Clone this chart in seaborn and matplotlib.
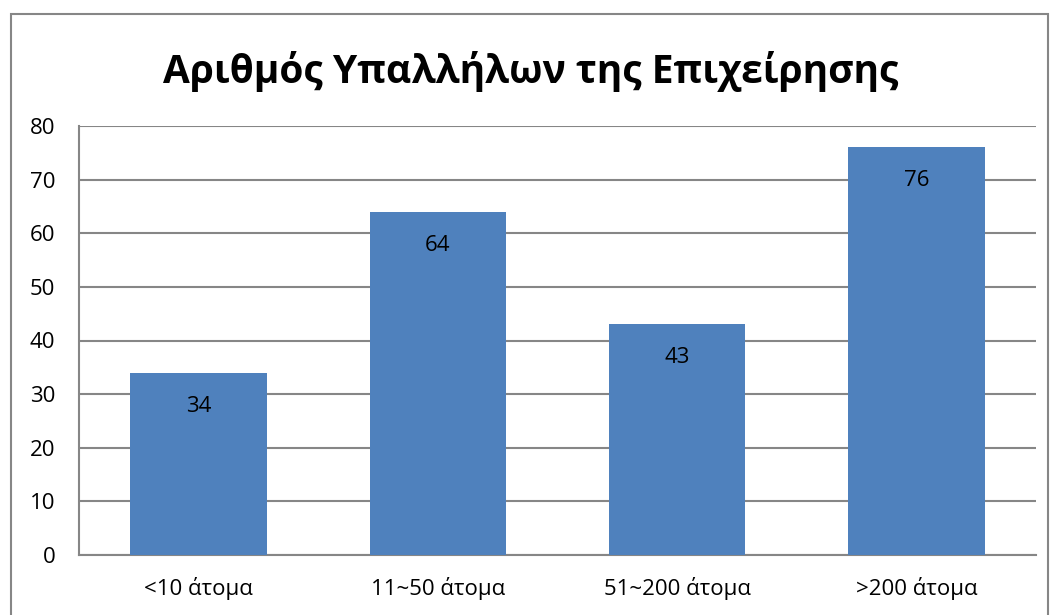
import matplotlib
matplotlib.use("Agg")
import matplotlib.pyplot as plt
import seaborn as sns
import pandas as pd
from matplotlib.patches import Rectangle

categories = ["<10 άτομα", "11~50 άτομα", "51~200 άτομα", ">200 άτομα"]
counts = [34, 64, 43, 76]
y_ticks = [0, 10, 20, 30, 40, 50, 60, 70, 80]
title = "Αριθμός Υπαλλήλων της Επιχείρησης"

sns.set_theme(style="white")
plt.rcParams["font.family"] = ["Open Sans", "DejaVu Sans"]

W, H = 1051, 615
fig = plt.figure(figsize=(W / 100, H / 100), dpi=100)
fig.patch.set_facecolor("white")

# plot area in pixel coordinates
left, right, top, bottom = 79, 1036, 126, 555
ax = fig.add_axes([left / W, 1 - bottom / H, (right - left) / W, (bottom - top) / H])

df = pd.DataFrame({"cat": categories, "n": counts})
sns.barplot(data=df, x="cat", y="n", color="#4F81BD", saturation=1, width=0.57,
            linewidth=0, edgecolor="none", ax=ax, zorder=3)

ax.set_ylim(0, 80)
ax.set_yticks(y_ticks)
ax.set_xlim(-0.5, len(categories) - 0.5)
ax.yaxis.grid(True, color="#868686", linewidth=1.5, zorder=0)
ax.set_axisbelow(True)
for s in ["top", "right"]:
    ax.spines[s].set_visible(False)
for s in ["left", "bottom"]:
    ax.spines[s].set_color("#868686")
    ax.spines[s].set_linewidth(1.5)
ax.set_xlabel("")
ax.set_ylabel("")
ax.tick_params(axis="both", length=0, labelsize=16, colors="black")
ax.tick_params(axis="y", pad=17)
ax.tick_params(axis="x", pad=16)

for i, v in enumerate(counts):
    ax.annotate(str(v), (i, v), xytext=(0, -24), textcoords="offset points",
                ha="center", va="center", fontsize=16, color="black")

fig.text(531 / W, 1 - 72 / H, title, ha="center", va="center",
         fontsize=28, fontweight="bold", color="black")

# outer chart border
fig.add_artist(Rectangle((11 / W, -0.05), (1048 - 11) / W, 1 - 14 / H + 0.05,
                         transform=fig.transFigure, fill=False,
                         edgecolor="#868686", linewidth=1.5))

fig.savefig("out.png", dpi=100)
